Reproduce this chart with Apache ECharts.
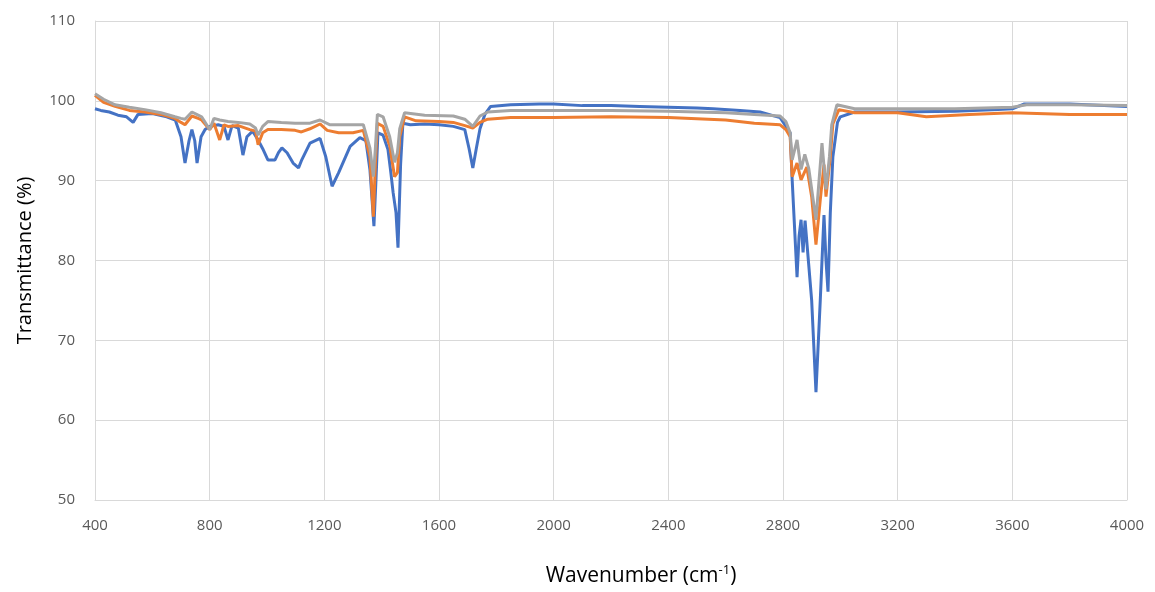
<!DOCTYPE html>
<html>
<head>
<meta charset="utf-8">
<script src="https://cdn.jsdelivr.net/npm/echarts@6/dist/echarts.min.js"></script>
<style>
  html, body { margin: 0; padding: 0; background: #ffffff; }
  #chart { width: 1155px; height: 592px; }
</style>
</head>
<body>
<div id="chart"></div>
<script>
  // 波数刻度
  var xTicks = [400, 800, 1200, 1600, 2000, 2400, 2800, 3200, 3600, 4000]
  var yTicks = [50, 60, 70, 80, 90, 100, 110]

  // 蓝色曲线
  var blueWn = [400, 420, 450, 480, 510, 533, 550, 600, 650, 680, 700, 714, 728, 738, 748, 756, 770, 784, 800, 830,
    850, 864, 878, 900, 916, 930, 950, 969, 985, 1003, 1028, 1040, 1052, 1070, 1091, 1110, 1120, 1150, 1185, 1205,
    1227, 1250, 1290, 1324, 1345, 1359, 1373, 1380, 1387, 1405, 1422, 1432, 1440, 1450, 1457, 1466, 1474, 1500, 1550, 1600,
    1650, 1690, 1705, 1718, 1730, 1743, 1760, 1780, 1850, 1950, 2000, 2100, 2200, 2300, 2400, 2500, 2556, 2650, 2720, 2790,
    2825, 2832, 2849, 2856, 2863, 2870, 2877, 2883, 2900, 2915, 2930, 2943, 2950, 2957, 2965, 2974, 2990, 3000, 3050, 3200,
    3400, 3550, 3600, 3640, 3800, 4000]
  var blueT = [99.0, 98.8, 98.6, 98.2, 98.0, 97.3, 98.3, 98.4, 98.0, 97.6, 95.5, 92.2, 95.0, 96.4, 95.0, 92.2, 95.5, 96.4, 96.8, 97.0,
    96.8, 95.1, 96.9, 96.6, 93.2, 95.5, 96.2, 95.1, 94.0, 92.6, 92.6, 93.5, 94.1, 93.5, 92.2, 91.6, 92.5, 94.7, 95.3, 93.0,
    89.3, 91.0, 94.3, 95.4, 95.0, 91.4, 84.3, 90.0, 96.0, 95.7, 93.9, 91.0, 88.5, 86.0, 81.6, 92.0, 97.2, 97.0, 97.1, 97.0,
    96.8, 96.4, 94.0, 91.6, 94.0, 96.5, 98.3, 99.3, 99.5, 99.6, 99.6, 99.4, 99.4, 99.3, 99.2, 99.1, 99.0, 98.8, 98.6, 97.9,
    96.0, 90.1, 77.9, 83.0, 85.1, 81.0, 85.0, 85.1, 75.0, 63.5, 75.0, 85.7, 80.0, 76.1, 86.0, 93.0, 97.3, 98.0, 98.6, 98.6,
    98.7, 98.9, 99.0, 99.6, 99.6, 99.3]

  // 橙色曲线
  var orangeWn = [400, 430, 470, 520, 574, 630, 679, 700, 714, 738, 760, 772, 800, 815, 835, 850, 864, 900, 940, 960,
    969, 985, 1003, 1050, 1098, 1120, 1150, 1185, 1210, 1250, 1300, 1336, 1359, 1371, 1378, 1385, 1405, 1428, 1445, 1455,
    1463, 1480, 1520, 1600, 1650, 1690, 1718, 1743, 1770, 1850, 2000, 2200, 2400, 2600, 2700, 2790, 2810, 2825, 2832, 2849,
    2863, 2883, 2900, 2915, 2930, 2943, 2950, 2965, 2974, 2995, 3050, 3200, 3300, 3450, 3600, 3800, 4000]
  var orangeT = [100.7, 99.8, 99.3, 98.8, 98.6, 98.3, 97.8, 97.3, 97.0, 98.1, 97.8, 97.6, 96.4, 97.2, 95.1, 97.0, 96.8, 96.9, 96.4, 96.2,
    94.5, 96.0, 96.4, 96.4, 96.3, 96.1, 96.5, 97.1, 96.3, 96.0, 96.0, 96.3, 93.0, 85.5, 92.0, 97.2, 96.8, 94.4, 90.5, 91.0,
    95.5, 98.0, 97.5, 97.4, 97.3, 96.9, 96.6, 97.3, 97.7, 97.9, 97.9, 98.0, 97.9, 97.6, 97.2, 97.0, 96.4, 95.5, 90.5, 92.2,
    90.1, 91.7, 88.0, 82.0, 87.6, 92.0, 88.0, 93.0, 97.1, 98.9, 98.5, 98.5, 98.0, 98.3, 98.5, 98.3, 98.3]

  // 灰色曲线
  var grayWn = [400, 430, 470, 520, 574, 630, 679, 700, 714, 738, 760, 772, 800, 815, 835, 864, 900, 940, 960, 969,
    985, 1003, 1050, 1098, 1150, 1185, 1220, 1300, 1336, 1359, 1371, 1378, 1385, 1405, 1428, 1445, 1455, 1463, 1480, 1550,
    1650, 1690, 1718, 1743, 1770, 1850, 2000, 2200, 2400, 2600, 2700, 2790, 2810, 2825, 2832, 2849, 2863, 2876, 2890, 2915,
    2936, 2950, 2962, 2970, 2988, 3050, 3200, 3400, 3600, 3650, 3800, 4000]
  var grayT = [100.9, 100.2, 99.5, 99.2, 98.9, 98.5, 98.0, 97.8, 97.7, 98.6, 98.2, 98.0, 96.4, 97.8, 97.6, 97.4, 97.3, 97.1, 96.6, 95.7,
    96.8, 97.4, 97.3, 97.2, 97.2, 97.6, 97.0, 97.0, 97.0, 94.1, 90.5, 94.0, 98.3, 98.0, 95.5, 92.3, 93.5, 96.5, 98.5, 98.2,
    98.1, 97.7, 96.8, 98.1, 98.6, 98.8, 98.8, 98.8, 98.7, 98.5, 98.3, 98.1, 97.4, 96.0, 92.6, 95.1, 91.4, 93.3, 91.5, 85.1,
    94.7, 88.9, 93.0, 97.0, 99.5, 99.0, 99.0, 99.0, 99.2, 99.5, 99.5, 99.4]

  function pairs (wn, t) {
    var res = []
    for (var i = 0; i < wn.length; i++) {
      res.push([wn[i], t[i]])
    }
    return res
  }

  var chart = echarts.init(document.getElementById('chart'))
  var gridColor = '#d9d9d9'
  var labelFont = '"Open Sans", "Noto Sans", sans-serif'

  chart.setOption({
    animation: false,
    backgroundColor: '#ffffff',
    grid: {
      left: 95,
      right: 28,
      top: 21,
      bottom: 91
    },
    xAxis: {
      type: 'value',
      min: xTicks[0],
      max: xTicks[xTicks.length - 1],
      interval: 400,
      name: 'Wavenumber (cm{sup|-1})',
      nameLocation: 'middle',
      nameGap: 64,
      nameTextStyle: {
        color: '#000000',
        fontSize: 21,
        fontFamily: labelFont,
        padding: [0, 0, 0, 60],
        rich: {
          sup: {
            fontSize: 13,
            fontFamily: labelFont,
            color: '#000000',
            padding: [0, 0, 12, 0]
          }
        }
      },
      axisLine: { show: true, lineStyle: { color: gridColor, width: 1 } },
      axisTick: { show: false },
      axisLabel: {
        color: '#595959',
        fontSize: 15,
        fontFamily: labelFont,
        margin: 18,
        formatter: function (v) { return String(v) }
      },
      splitLine: { show: true, lineStyle: { color: gridColor, width: 1 } }
    },
    yAxis: {
      type: 'value',
      min: yTicks[0],
      max: yTicks[yTicks.length - 1],
      interval: 10,
      name: 'Transmittance (%)',
      nameLocation: 'middle',
      nameRotate: 90,
      nameGap: 60,
      nameTextStyle: { color: '#000000', fontSize: 20, fontFamily: labelFont },
      axisLine: { show: true, lineStyle: { color: gridColor, width: 1 } },
      axisTick: { show: false },
      axisLabel: { color: '#595959', fontSize: 15, fontFamily: labelFont, margin: 20 },
      splitLine: { show: true, lineStyle: { color: gridColor, width: 1 } }
    },
    series: [
      {
        name: 'blue',
        type: 'line',
        data: pairs(blueWn, blueT),
        showSymbol: false,
        lineStyle: { color: '#4472c4', width: 3 },
        itemStyle: { color: '#4472c4' }
      },
      {
        name: 'orange',
        type: 'line',
        data: pairs(orangeWn, orangeT),
        showSymbol: false,
        lineStyle: { color: '#ed7d31', width: 3 },
        itemStyle: { color: '#ed7d31' }
      },
      {
        name: 'gray',
        type: 'line',
        data: pairs(grayWn, grayT),
        showSymbol: false,
        lineStyle: { color: '#a5a5a5', width: 3 },
        itemStyle: { color: '#a5a5a5' }
      }
    ]
  })
</script>
</body>
</html>
